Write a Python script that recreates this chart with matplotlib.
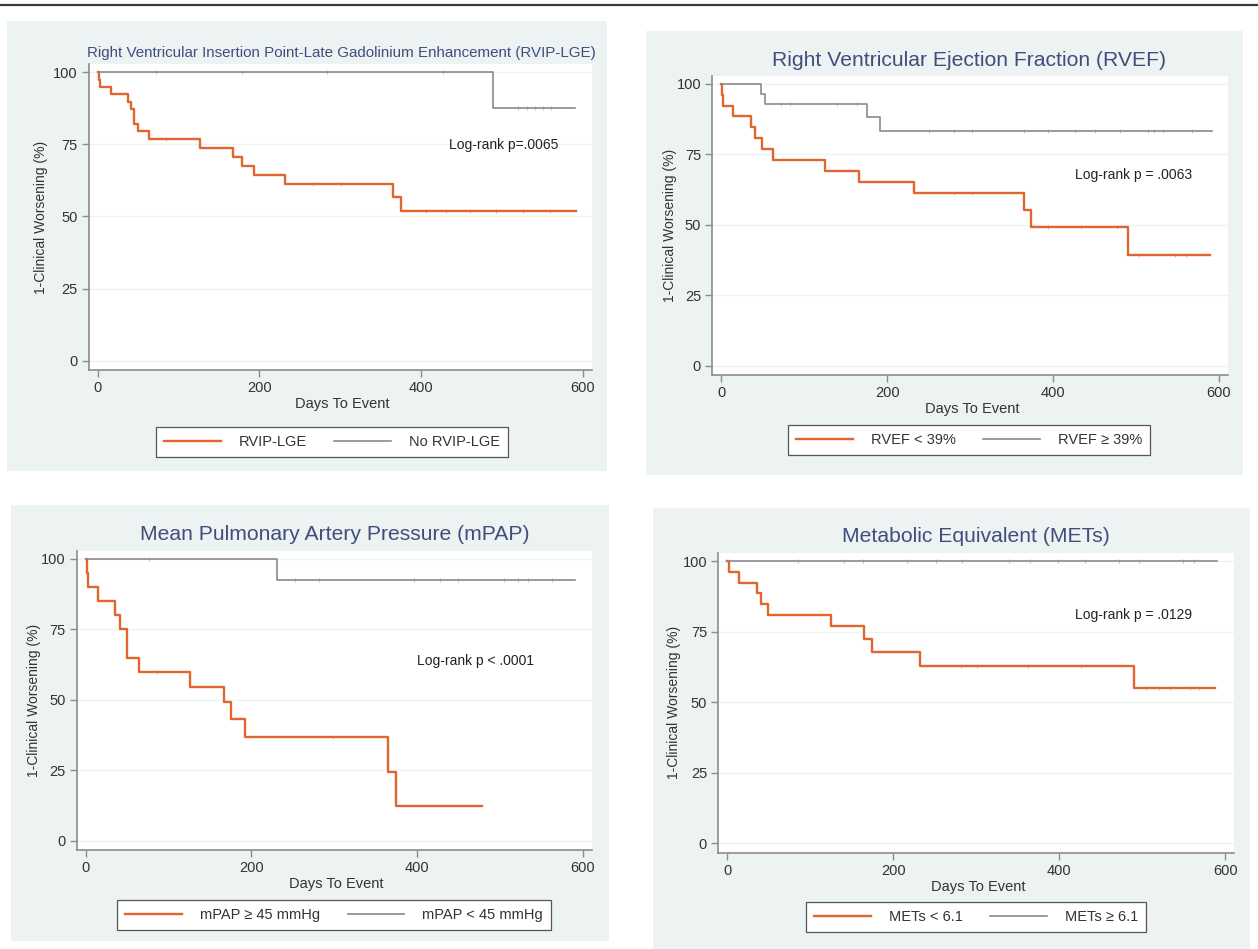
import numpy as np
import matplotlib
matplotlib.use("Agg")
import matplotlib.pyplot as plt
from matplotlib.patches import Rectangle
from matplotlib.lines import Line2D

plt.rcParams['font.family'] = ['Liberation Sans', 'DejaVu Sans']

W, H = 1258, 949

# ---- data (days, % free of worsening) ----
rvip_t = [0, 1, 2.5, 17, 37, 41, 45, 50, 64, 127, 167, 178, 193, 232, 365, 375, 591]
rvip_s = [100, 97.4, 94.9, 92.3, 89.7, 87.2, 82.1, 79.5, 76.9, 73.6, 70.6, 67.5, 64.5, 61.3, 56.9, 51.9, 51.9]
rvip_c = [85, 266, 301, 406, 431, 460, 493, 526, 559]
norvip_t = [0, 489, 590]
norvip_s = [100, 87.5, 87.5]
norvip_c = [72, 179, 283, 427, 520, 531, 541, 550, 561]

rvef_lo_t = [0, 1.2, 2.5, 14.5, 36, 40, 49, 62, 125, 165.5, 232, 365, 373, 490, 589]
rvef_lo_s = [100, 96.2, 92.3, 88.5, 84.6, 80.8, 76.9, 73.1, 69.2, 65.4, 61.5, 55.4, 49.2, 39.4, 39.4]
rvef_lo_c = [281, 302, 394, 434, 477, 504, 547, 560]
rvef_hi_t = [0, 48, 53, 175.5, 191, 591]
rvef_hi_s = [100, 96.4, 92.9, 88.4, 83.4, 83.4]
rvef_hi_c = [72, 83, 140, 163, 250, 281, 302, 365, 394, 427, 450, 481, 514, 522, 533, 568]

mpap_hi_t = [0, 2, 3, 14.5, 36, 41, 49.5, 64, 126, 167, 175.5, 192.5, 365.5, 375, 479]
mpap_hi_s = [100, 95, 90, 85, 80, 75, 65, 60, 54.5, 49.2, 43.1, 36.8, 24.5, 12.3, 12.3]
mpap_hi_c = [86, 299]
mpap_lo_t = [0, 231, 591]
mpap_lo_s = [100, 92.3, 92.3]
mpap_lo_c = [76, 253, 282, 396, 428, 450, 505, 522, 534, 563]

mets_lo_t = [0, 1.5, 14.5, 36, 40.5, 48.7, 125.5, 165, 174.7, 232, 490, 588]
mets_lo_s = [100, 96.2, 92.3, 88.5, 84.6, 80.8, 76.9, 72.5, 67.7, 62.8, 55.0, 55.0]
mets_lo_c = [282, 301, 363, 426, 505, 520, 534, 558, 568]
mets_hi_t = [0, 590]
mets_hi_s = [100, 100]
mets_hi_c = [85, 141, 163, 216, 252, 283, 339, 365, 399, 431, 472, 496, 549, 563]

ORANGE = '#e0652e'
GRAY = '#8a8a8a'
TITLE_C = '#404e7c'
BG = '#edf2f3'


def fx(x):
    return x / W


def fy(y):
    return 1 - y / H


fig = plt.figure(figsize=(W / 100, H / 100), dpi=100)
fig.patch.set_facecolor('white')

# thin rule across the top of the slide
fig.add_artist(Line2D([0, 1], [fy(5), fy(5)], color='#3a3a3a', lw=1.6))

panels = [
    dict(bg=(7, 21, 607, 471), ax=(88.8, 64.2, 591.9, 370.2),
         title="Right Ventricular Insertion Point-Late Gadolinium Enhancement (RVIP-LGE)",
         tsize=10.9, ty=53, tx=341,
         curves=[(rvip_t, rvip_s, rvip_c, ORANGE, 1.7), (norvip_t, norvip_s, norvip_c, GRAY, 1.2)],
         labels=["RVIP-LGE", "No RVIP-LGE"], leg=(332, 442),
         note="Log-rank p=.0065", note_xy=(502, 74.8), ylx=41),
    dict(bg=(646, 31, 1243, 475), ax=(712.2, 76.1, 1228.1, 375.3),
         title="Right Ventricular Ejection Fraction (RVEF)",
         tsize=15.2, ty=61, tx=969,
         curves=[(rvef_lo_t, rvef_lo_s, rvef_lo_c, ORANGE, 1.7), (rvef_hi_t, rvef_hi_s, rvef_hi_c, GRAY, 1.2)],
         labels=["RVEF < 39%", "RVEF \u2265 39%"], leg=(969, 440),
         note="Log-rank p = .0063", note_xy=(497, 67.7), ylx=670),
    dict(bg=(11, 505, 609, 941), ax=(76.5, 550.8, 591.7, 850.3),
         title="Mean Pulmonary Artery Pressure (mPAP)",
         tsize=15.2, ty=535, tx=335,
         curves=[(mpap_hi_t, mpap_hi_s, mpap_hi_c, ORANGE, 1.7), (mpap_lo_t, mpap_lo_s, mpap_lo_c, GRAY, 1.2)],
         labels=["mPAP \u2265 45 mmHg", "mPAP < 45 mmHg"], leg=(334, 915),
         note="Log-rank p < .0001", note_xy=(471, 63.8), ylx=34),
    dict(bg=(653, 508, 1250, 949), ax=(718.2, 553.1, 1234.2, 852.6),
         title="Metabolic Equivalent (METs)",
         tsize=15.2, ty=537, tx=976,
         curves=[(mets_lo_t, mets_lo_s, mets_lo_c, ORANGE, 1.7), (mets_hi_t, mets_hi_s, mets_hi_c, GRAY, 1.2)],
         labels=["METs < 6.1", "METs \u2265 6.1"], leg=(976, 917),
         note="Log-rank p = .0129", note_xy=(490, 80.9), ylx=674),
]

for p in panels:
    x0, y0, x1, y1 = p['bg']
    fig.patches.append(Rectangle((fx(x0), fy(y1)), fx(x1 - x0), (y1 - y0) / H,
                                 transform=fig.transFigure, facecolor=BG,
                                 edgecolor='none', zorder=-5))

for p in panels:
    a0, b0, a1, b1 = p['ax']
    ax = fig.add_axes([fx(a0), fy(b1), fx(a1 - a0), (b1 - b0) / H], zorder=2)
    ax.set_facecolor('white')
    handles = []
    for t, s, c, col, lw in p['curves']:
        h, = ax.step(t, s, where='post', color=col, lw=lw, zorder=3)
        handles.append(h)
        # censoring ticks (faint in the original)
        t_arr = np.asarray(t)
        s_arr = np.asarray(s)
        idx = np.searchsorted(t_arr, c, side='right') - 1
        ax.plot(c, s_arr[idx], linestyle='none', marker='|', ms=2.6,
                mew=0.6, color=col, alpha=0.6, zorder=3)
    ax.set_xlim(-11, 611)
    ax.set_ylim(-3.3, 102.8)
    ax.set_xticks([0, 200, 400, 600])
    ax.set_yticks([0, 25, 50, 75, 100])
    ax.yaxis.grid(True, color='#eff3f3', lw=1.0, zorder=0)
    ax.set_axisbelow(True)
    for sp in ['top', 'right']:
        ax.spines[sp].set_visible(False)
    for sp in ['left', 'bottom']:
        ax.spines[sp].set_color('#8c8c8c')
        ax.spines[sp].set_linewidth(1.2)
    ax.tick_params(direction='out', length=5, width=1, color='#8c8c8c',
                   labelsize=10.5, labelcolor='#333333', pad=3)
    ax.text(p['note_xy'][0], p['note_xy'][1], p['note'], ha='center', va='center',
            fontsize=10, color='#222222')

    fig.text(fx(p['tx']), fy(p['ty']), p['title'], ha='center', va='center',
             fontsize=p['tsize'], color=TITLE_C)
    fig.text(fx((a0 + a1) / 2 + 2), fy(b1 + 34), "Days To Event", ha='center',
             va='center', fontsize=10.5, color='#333333')
    fig.text(fx(p['ylx']), fy((b0 + b1) / 2), "1-Clinical Worsening (%)", ha='center',
             va='center', rotation=90, fontsize=10, color='#333333')

    leg = fig.legend(handles, p['labels'], loc='center',
                     bbox_to_anchor=(fx(p['leg'][0]), fy(p['leg'][1])),
                     ncol=2, fontsize=10.5, handlelength=3.9, handletextpad=1.2,
                     columnspacing=1.9, frameon=True, fancybox=False,
                     framealpha=1, edgecolor='#555555', borderpad=0.55)
    leg.get_frame().set_linewidth(0.9)
    for txt in leg.get_texts():
        txt.set_color('#333333')

fig.savefig("out.png", dpi=100)
